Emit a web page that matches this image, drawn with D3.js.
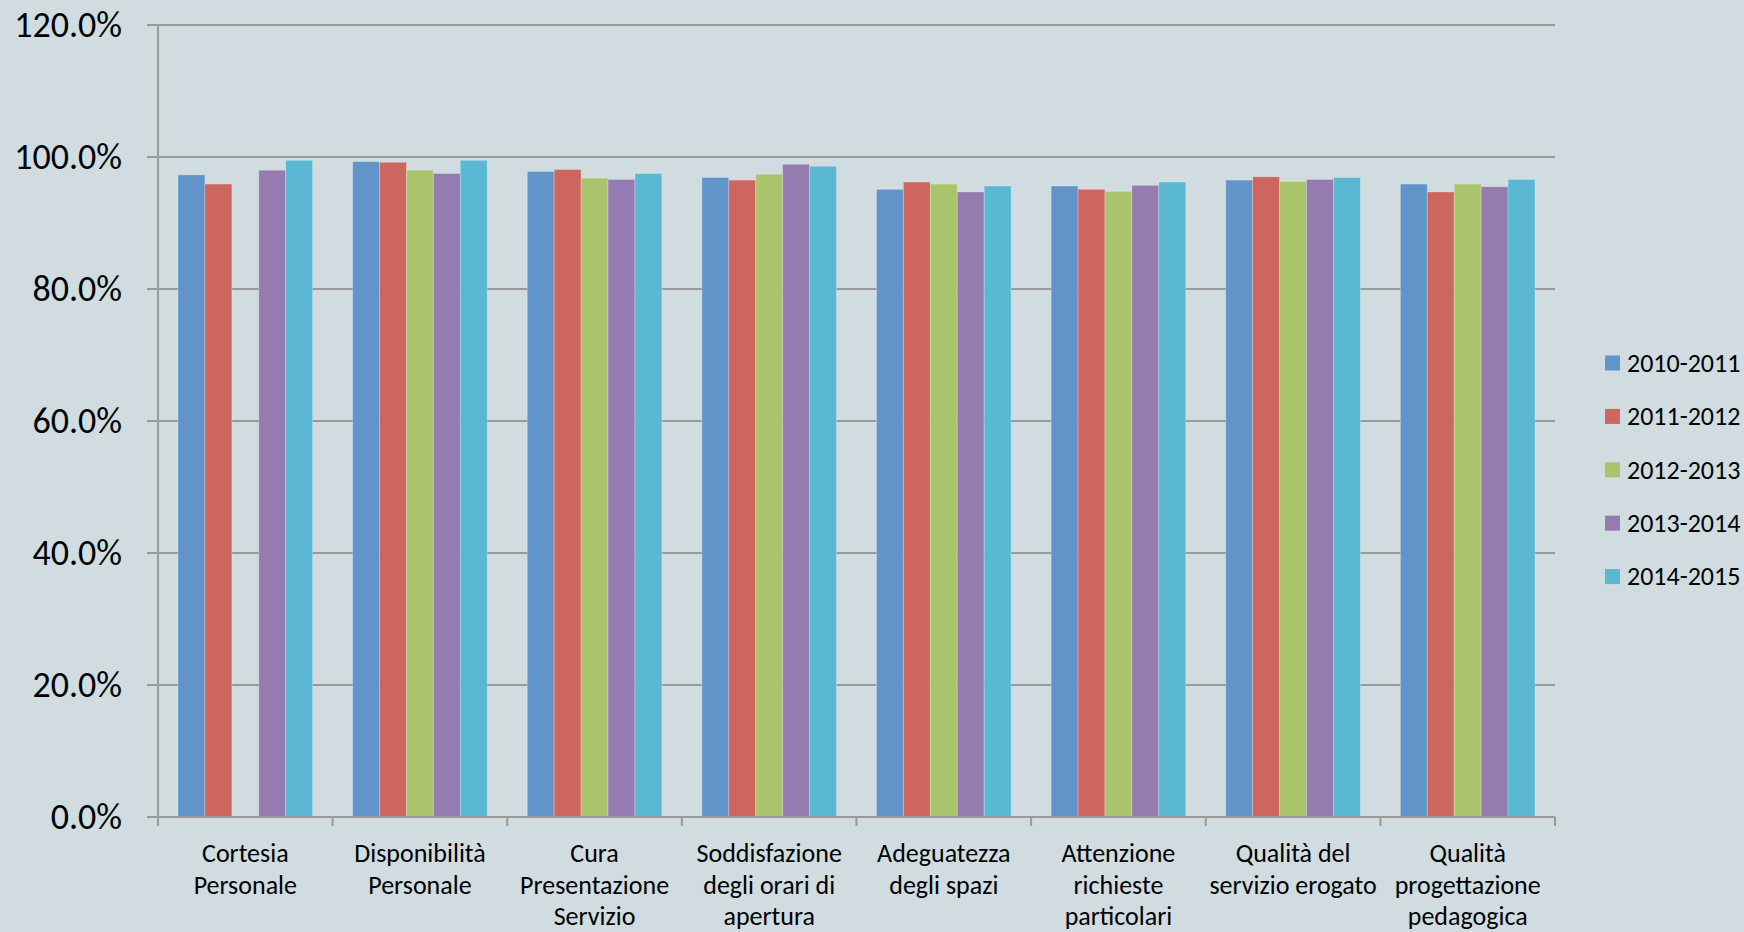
<!DOCTYPE html>
<html>
<head>
<meta charset="utf-8">
<script src="https://cdn.jsdelivr.net/npm/d3@7"></script>
<style>
  html, body { margin: 0; padding: 0; background: #d0dce0; }
  svg { display: block; font-family: Carlito, Lato, "Open Sans", sans-serif; }
</style>
</head>
<body>
<svg id="chart" width="1744" height="932"></svg>
<script>
// categorie (righe dell'etichetta)
const categories = [
  ["Cortesia", "Personale"],
  ["Disponibilità", "Personale"],
  ["Cura", "Presentazione", "Servizio"],
  ["Soddisfazione", "degli orari di", "apertura"],
  ["Adeguatezza", "degli spazi"],
  ["Attenzione", "richieste", "particolari"],
  ["Qualità del", "servizio erogato"],
  ["Qualità", "progettazione", "pedagogica"]
];
const years = ["2010-2011", "2011-2012", "2012-2013", "2013-2014", "2014-2015"];
const colors = ["#6195c9", "#cc665f", "#aac46b", "#947bb0", "#5bb8d3"];

// valori in percentuale, una serie per anno
const s2010 = [97.3, 99.3, 97.8, 96.9, 95.1, 95.6, 96.5, 95.9];
const s2011 = [95.9, 99.2, 98.1, 96.5, 96.2, 95.1, 97.0, 94.7];
const s2012 = [null, 98.0, 96.8, 97.4, 95.9, 94.8, 96.3, 95.9];
const s2013 = [98.0, 97.5, 96.6, 98.9, 94.7, 95.7, 96.6, 95.5];
const s2014 = [99.5, 99.5, 97.5, 98.6, 95.6, 96.2, 96.9, 96.6];
const series = [s2010, s2011, s2012, s2013, s2014];

const yTicks = [0, 20, 40, 60, 80, 100, 120];

const svg = d3.select("#chart");
const m = { left: 158, top: 25, right: 1555, bottom: 817 };

const x0 = d3.scaleBand()
  .domain(d3.range(categories.length))
  .range([m.left, m.right])
  .padding(0);

const x1 = d3.scaleBand()
  .domain(d3.range(years.length))
  .range([20, x0.bandwidth() - 20])
  .padding(0);

const y = d3.scaleLinear()
  .domain([0, 120])
  .range([m.bottom, m.top]);

// griglia
svg.append("g")
  .selectAll("line")
  .data(yTicks)
  .join("line")
  .attr("x1", m.left - 11)
  .attr("x2", m.right)
  .attr("y1", d => y(d))
  .attr("y2", d => y(d))
  .attr("stroke", "#999999")
  .attr("stroke-width", 2);

// etichette asse y
svg.append("g")
  .selectAll("text")
  .data(yTicks)
  .join("text")
  .attr("x", 122)
  .attr("y", d => y(d))
  .attr("dy", "0.34em")
  .attr("text-anchor", "end")
  .attr("font-size", 36)
  .attr("fill", "#000")
  .text(d => d.toFixed(1) + "%");

// barre
const rows = [];
series.forEach((s, si) => {
  s.forEach((v, ci) => {
    if (v != null) rows.push({ si, ci, v });
  });
});

svg.append("g")
  .selectAll("rect")
  .data(rows)
  .join("rect")
  .attr("x", d => x0(d.ci) + x1(d.si))
  .attr("width", x1.bandwidth())
  .attr("y", d => y(d.v))
  .attr("height", d => y(0) - y(d.v))
  .attr("fill", d => colors[d.si])
  .attr("stroke", "rgba(255,255,255,0.25)")
  .attr("stroke-width", 1);

// asse y
svg.append("line")
  .attr("x1", m.left).attr("x2", m.left)
  .attr("y1", m.top).attr("y2", m.bottom)
  .attr("stroke", "#999999").attr("stroke-width", 2);

// asse x con tacche
svg.append("line")
  .attr("x1", m.left).attr("x2", m.right)
  .attr("y1", m.bottom).attr("y2", m.bottom)
  .attr("stroke", "#999999").attr("stroke-width", 2);

svg.append("g")
  .selectAll("line")
  .data(d3.range(categories.length + 1))
  .join("line")
  .attr("x1", i => m.left + i * x0.bandwidth())
  .attr("x2", i => m.left + i * x0.bandwidth())
  .attr("y1", m.bottom)
  .attr("y2", m.bottom + 9)
  .attr("stroke", "#999999")
  .attr("stroke-width", 2);

// etichette categorie
const catText = svg.append("g")
  .selectAll("text")
  .data(categories)
  .join("text")
  .attr("text-anchor", "middle")
  .attr("font-size", 26)
  .attr("fill", "#000")
  .attr("transform", (d, i) => `translate(${x0(i) + x0.bandwidth() / 2},862)`);

catText.selectAll("tspan")
  .data(d => d)
  .join("tspan")
  .attr("x", 0)
  .attr("y", (d, i) => i * 31.5)
  .text(d => d);

// legenda
const leg = svg.append("g")
  .selectAll("g")
  .data(years)
  .join("g")
  .attr("transform", (d, i) => `translate(1605,${363 + i * 53.4})`);

leg.append("rect")
  .attr("x", 0).attr("y", -7.5)
  .attr("width", 15).attr("height", 15)
  .attr("fill", (d, i) => colors[i]);

leg.append("text")
  .attr("x", 22)
  .attr("dy", "0.34em")
  .attr("font-size", 26)
  .attr("fill", "#000")
  .text(d => d);
</script>
</body>
</html>
